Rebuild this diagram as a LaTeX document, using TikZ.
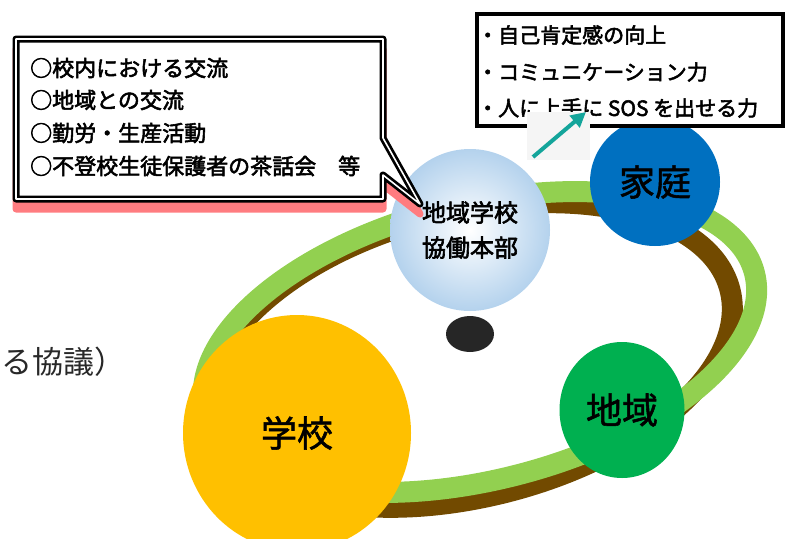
\documentclass[tikz,border=0pt]{standalone}
\usepackage{fontspec}
\setmainfont{Noto Sans CJK JP}
\newfontfamily\jpbold[FakeBold=2.5]{Noto Sans CJK JP}
\newfontfamily\jpmed[FakeBold=1.5]{Noto Sans CJK JP}
\usetikzlibrary{shapes.geometric,arrows.meta}
\definecolor{ringgreen}{RGB}{146,208,80}
\definecolor{ringbrown}{RGB}{114,74,0}
\definecolor{schoolyellow}{RGB}{255,192,0}
\definecolor{areagreen}{RGB}{0,176,80}
\definecolor{homeblue}{RGB}{0,112,192}
\definecolor{hqblue}{RGB}{180,210,237}
\definecolor{shadowred}{RGB}{255,124,128}
\definecolor{arrowteal}{RGB}{20,165,155}
\definecolor{dotgray}{RGB}{38,38,38}
\definecolor{faintgray}{RGB}{245,245,245}
\definecolor{textgray}{RGB}{40,40,40}
\tikzset{
  blob/.style={ellipse, inner sep=0pt, text=black},
  bigtxt/.style={font=\jpmed\fontsize{36}{40}\selectfont},
  boxtxt/.style={anchor=west, inner sep=0pt, font=\jpbold\fontsize{22}{24}\selectfont},
  goaltxt/.style={anchor=west, inner sep=0pt, font=\jpbold\fontsize{21}{24}\selectfont},
}
\begin{document}
\begin{tikzpicture}[x=1pt,y=-1pt]
\useasboundingbox (0,0) rectangle (792,538);
% ring
\draw[ringbrown, line width=21pt, rotate around={14:(470,355)}] (470,355) ellipse [x radius=268, y radius=142];
\draw[ringgreen, line width=21pt, rotate around={14:(480,342)}] (480,342) ellipse [x radius=283, y radius=138];
% circles
\node[blob, fill=schoolyellow, minimum width=228pt, minimum height=236pt, bigtxt] (school) at (297,433) {学校};
\node[blob, fill=areagreen, minimum width=125pt, minimum height=136pt, bigtxt] (area) at (622,410) {地域};
\node[blob, fill=homeblue, minimum width=130pt, minimum height=128pt, bigtxt] (home) at (655,182) {家庭};
\node[blob, inner color=white, outer color=hqblue, minimum width=160pt, minimum height=162pt,
      align=center, font=\jpbold\fontsize{24}{35}\selectfont] (hq) at (470,230) {地域学校\\協働本部};
\node[blob, fill=dotgray, minimum width=48pt, minimum height=36pt] (dot) at (470,334) {};
% callout
\def\cpath{(16,39) -- (383,39) -- (383,138) -- (420,204) -- (383,175) -- (383,199) -- (16,199) -- cycle}
\filldraw[shadowred, line width=7pt, line join=round, shift={(0,10)}] \cpath;
\draw[black, line width=7pt, fill=white, line join=round] \cpath;
\draw[white, line width=1.6pt, line join=round] \cpath;
\node[boxtxt] (l1) at (30,68) {○校内における交流};
\node[boxtxt] (l2) at (30,100) {○地域との交流};
\node[boxtxt] (l3) at (30,133) {○勤労・生産活動};
\node[boxtxt] (l4) at (30,166) {○不登校生徒保護者の茶話会　等};
% goals box
\node[draw, fill=white, line width=3.5pt, minimum width=306pt, minimum height=112pt, inner sep=0pt] (goals) at (630,70) {};
\node[goaltxt] (g1) at (477,35) {・自己肯定感の向上};
\node[goaltxt] (g2) at (477,72) {・コミュニケーション力};
\node[goaltxt] (g3) at (477,108) {・人に上手に SOS を出せる力};
% arrow
\fill[faintgray] (527,112) rectangle (590,160);
\coordinate (atail) at (533,157);
\coordinate (ahead) at (586,112);
\draw[arrowteal, line width=4pt, -{Triangle[length=15pt,width=15pt]}] (atail) -- (ahead);
% fragment text
\node[anchor=west, inner sep=0pt, text=textgray, font=\fontsize{31}{34}\selectfont] (frag) at (1,362) {る協議）};
\end{tikzpicture}
\end{document}
